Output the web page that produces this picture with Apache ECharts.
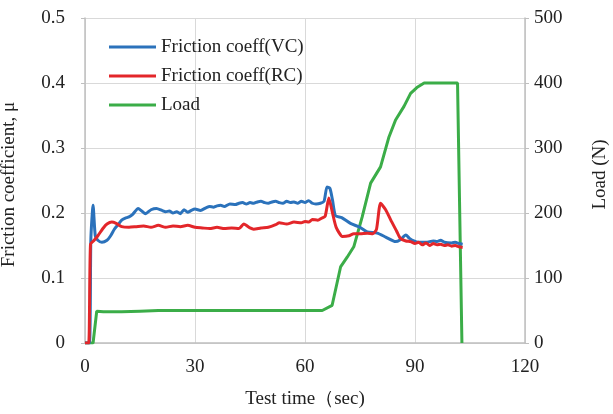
<!DOCTYPE html>
<html>
<head>
<meta charset="utf-8">
<script src="https://cdn.jsdelivr.net/npm/echarts@6/dist/echarts.min.js"></script>
<style>
html,body{margin:0;padding:0;background:#fff;}
#chart{width:613px;height:414px;}
</style>
</head>
<body>
<div id="chart"></div>
<script>
var seriesNames = ['Friction coeff(VC)', 'Friction coeff(RC)', 'Load'];
var xTicks = [0, 30, 60, 90, 120];
var leftTicks = [0, 0.1, 0.2, 0.3, 0.4, 0.5];
var rightTicks = [0, 100, 200, 300, 400, 500];

var vcTime = [0,1.2,1.6,2.2,2.8,3.5,4.6,6,7,8,9,10,11,12,13,14.5,15.5,16.5,18,19.5,21,22,23,24,25,26,27,28,29,30,31.5,33,34,35,36,37,38,39.5,41,42,43,44,45,46,47,48,49,50,51,52,53,54,55,56,57,58,59,60,61,62,63,64.2,65.2,66,66.8,67.5,68.3,70,72.4,75,77,79.7,82,84.7,86,87.5,88.5,89.7,91,93,95,96,97,98,100,101,102,103];
var vcValue = [0,0,0.16,0.212,0.165,0.158,0.155,0.158,0.165,0.175,0.182,0.189,0.192,0.194,0.198,0.207,0.203,0.199,0.205,0.207,0.204,0.202,0.203,0.200,0.202,0.199,0.205,0.201,0.204,0.206,0.204,0.208,0.21,0.209,0.211,0.212,0.21,0.214,0.213,0.215,0.216,0.214,0.216,0.215,0.217,0.218,0.216,0.215,0.217,0.218,0.216,0.215,0.218,0.216,0.217,0.215,0.218,0.216,0.219,0.215,0.214,0.215,0.218,0.24,0.238,0.22,0.196,0.193,0.184,0.178,0.171,0.169,0.163,0.156,0.159,0.166,0.161,0.157,0.155,0.155,0.157,0.156,0.158,0.155,0.154,0.155,0.153,0.152];

var rcTime = [0,1,1.5,2.5,3.5,5,6,7.3,8.5,10,12,14,16,18,20,22,24,26,28,30,32,34,36,38,40,42,43.3,45,46,48,50,52,53,55,57,59,60,61,62,63.5,64.5,65.5,66.5,67.5,68.5,70.2,72,73.3,75,77,78.5,79.5,80.6,82,83.4,85,86,87.5,88.8,90,91,92,93,94,95,96,97,98,99,100,101,102,103];
var rcValue = [0,0,0.152,0.158,0.165,0.177,0.183,0.186,0.184,0.179,0.178,0.179,0.180,0.178,0.181,0.178,0.180,0.179,0.181,0.178,0.177,0.176,0.178,0.176,0.177,0.176,0.183,0.177,0.175,0.177,0.178,0.182,0.185,0.183,0.186,0.185,0.187,0.186,0.19,0.189,0.192,0.195,0.223,0.2,0.178,0.164,0.165,0.168,0.168,0.169,0.168,0.175,0.215,0.205,0.189,0.172,0.161,0.157,0.156,0.153,0.155,0.151,0.154,0.150,0.153,0.151,0.152,0.150,0.151,0.149,0.150,0.148,0.147];

var loadTime = [0,2.2,3.2,5,10,15,20,30,40,50,60,64.7,67.4,69.7,71.5,73.3,75.6,77.9,80.6,82.9,84.7,87,88.8,90.5,92.5,95,100,101.6,102.8];
var loadValue = [0,0,49,48,48,49,50,50,50,50,50,50,58,117,132,148,194,246,271,317,343,364,384,393,400,400,400,400,0];

function pairs(t, v) { return t.map(function (x, i) { return [x, v[i]]; }); }

var FONT = "'Liberation Serif','Times New Roman',serif";
var chart = echarts.init(document.getElementById('chart'), null, {renderer: 'canvas'});
var gridColor = '#d9d9d9';
var axisColor = '#bfbfbf';
chart.setOption({
  animation: false,
  backgroundColor: '#ffffff',
  grid: {left: 85, right: 88, top: 18, bottom: 71, containLabel: false, outerBoundsMode: 'none'},
  legend: {
    left: 104, top: 32, orient: 'vertical', itemGap: 9,
    itemWidth: 47, itemHeight: 3, icon: 'rect',
    textStyle: {fontFamily: FONT, fontSize: 19, color: '#222', lineHeight: 20},
    data: seriesNames
  },
  xAxis: {
    type: 'value', min: xTicks[0], max: xTicks[xTicks.length - 1], interval: 30,
    name: 'Test time（sec)', nameLocation: 'middle', nameGap: 47,
    nameTextStyle: {fontFamily: FONT, fontSize: 19, color: '#222'},
    axisLine: {show: true, lineStyle: {color: axisColor, width: 1.5}},
    axisTick: {show: false},
    axisLabel: {fontFamily: FONT, fontSize: 19, color: '#222', margin: 15},
    splitLine: {show: true, lineStyle: {color: gridColor, width: 1}}
  },
  yAxis: [{
    type: 'value', min: leftTicks[0], max: leftTicks[leftTicks.length - 1], interval: 0.1,
    name: 'Friction coefficient, μ', nameLocation: 'middle', nameGap: 66,
    nameTextStyle: {fontFamily: FONT, fontSize: 19, color: '#222', padding: [0, 8, 0, 0]},
    axisLine: {show: true, lineStyle: {color: axisColor, width: 1.5}},
    axisTick: {show: true, inside: false, length: 4, lineStyle: {color: axisColor}},
    axisLabel: {fontFamily: FONT, fontSize: 19, color: '#222', margin: 20},
    splitLine: {show: true, lineStyle: {color: gridColor, width: 1}}
  }, {
    type: 'value', position: 'right', min: rightTicks[0], max: rightTicks[rightTicks.length - 1], interval: 100,
    name: 'Load (N)', nameLocation: 'middle', nameGap: 66,
    nameTextStyle: {fontFamily: FONT, fontSize: 19, color: '#222', padding: [0, 0, 0, 12]},
    axisLine: {show: true, lineStyle: {color: axisColor, width: 1.5}},
    axisTick: {show: true, inside: false, length: 4, lineStyle: {color: axisColor}},
    axisLabel: {fontFamily: FONT, fontSize: 19, color: '#222', margin: 9},
    splitLine: {show: false}
  }],
  series: [{
    name: seriesNames[0], type: 'line', yAxisIndex: 0, showSymbol: false, symbol: 'none',
    data: pairs(vcTime, vcValue), smooth: 0.2,
    lineStyle: {color: '#2b72bb', width: 3}, itemStyle: {color: '#2b72bb'}, z: 4
  }, {
    name: seriesNames[1], type: 'line', yAxisIndex: 0, showSymbol: false, symbol: 'none',
    data: pairs(rcTime, rcValue), smooth: 0.2,
    lineStyle: {color: '#e3262a', width: 3}, itemStyle: {color: '#e3262a'}, z: 5
  }, {
    name: seriesNames[2], type: 'line', yAxisIndex: 1, showSymbol: false, symbol: 'none',
    data: pairs(loadTime, loadValue),
    lineStyle: {color: '#3bad48', width: 3}, itemStyle: {color: '#3bad48'}, z: 3
  }]
});
</script>
</body>
</html>
